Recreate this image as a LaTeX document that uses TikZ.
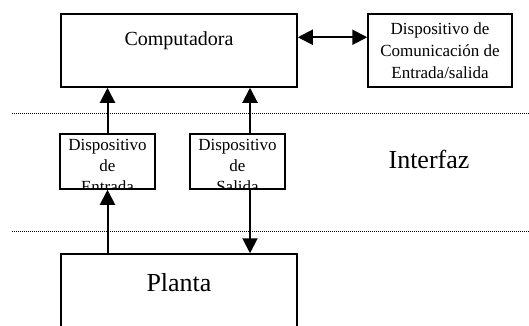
\documentclass[tikz,border=0pt]{standalone}
\usepackage{fontspec}
\setmainfont{Liberation Serif}
\usetikzlibrary{arrows.meta}
\begin{document}
\begin{tikzpicture}[x=1pt,y=-1pt,
  box/.style={draw,line width=1.5pt,inner sep=0pt},
  arr/.style={line width=2pt,-{Triangle[width=15pt,length=15pt]}},
  darr/.style={line width=2pt,{Triangle[width=15pt,length=15pt]}-{Triangle[width=15pt,length=15pt]}},
  sepline/.style={line width=0.8pt,dash pattern=on 0.8pt off 1.2pt},
  small/.style={font=\fontsize{17}{21}\selectfont,align=center,inner sep=0pt,anchor=north},
]
\useasboundingbox (0,0) rectangle (529,325);
% top boxes
\node[box,minimum width=236pt,minimum height=73pt] (comp) at (179,50.5) {};
\node[anchor=base,font=\fontsize{20}{24}\selectfont] (comptxt) at (179,45) {Computadora};
\node[box,minimum width=144pt,minimum height=73pt,align=center,font=\fontsize{17}{22}\selectfont] (com) at (440,50.5) {Dispositivo de\\Comunicación de\\Entrada/salida};
\draw[darr] ([yshift=-24pt]comp.north east) -- ([yshift=-24pt]com.north west);
% separators
\coordinate (d1a) at (12,113); \coordinate (d1b) at (529,113);
\coordinate (d2a) at (12,231); \coordinate (d2b) at (529,231);
\draw[sepline] (d1a) -- (d1b);
\draw[sepline] (d2a) -- (d2b);
% interface boxes
\node[box,minimum width=95pt,minimum height=55pt] (ent) at (107.5,161.5) {};
\node[box,minimum width=95pt,minimum height=55pt] (sal) at (237.5,161.5) {};
\begin{scope}
  \clip (ent.north west) rectangle (ent.south east);
  \node[small] (enttxt) at ([yshift=-6pt]ent.north) {Dispositivo\\de\\Entrada};
\end{scope}
\begin{scope}
  \clip (sal.north west) rectangle (sal.south east);
  \node[small] (saltxt) at ([yshift=-6pt]sal.north) {Dispositivo\\de\\Salida};
\end{scope}
\node[anchor=base,font=\fontsize{26}{30}\selectfont] (intf) at (429,168) {Interfaz};
% plant
\node[box,minimum width=236pt,minimum height=100pt] (plant) at (179,304) {};
\node[anchor=base,font=\fontsize{26}{30}\selectfont] (planttxt) at (179,291) {Planta};
% arrows
\coordinate (xb) at (250,0);
\draw[arr] (ent.north) -- (ent.north |- comp.south);
\draw[arr] (sal.north -| xb) -- (comp.south -| xb);
\draw[arr] (plant.north -| ent.south) -- (ent.south);
\draw[arr] (sal.south -| xb) -- (plant.north -| xb);
\end{tikzpicture}
\end{document}
